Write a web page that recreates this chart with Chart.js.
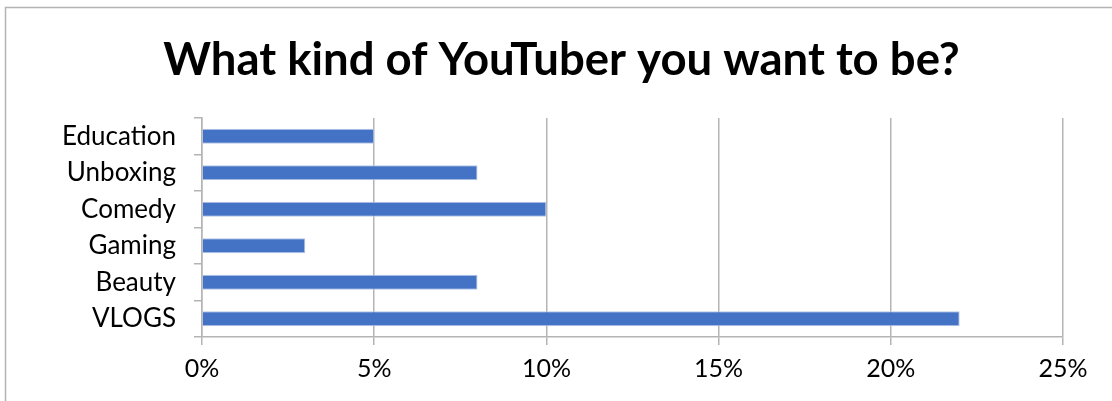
<!DOCTYPE html>
<html>
<head>
<meta charset="utf-8">
<script src="https://cdn.jsdelivr.net/npm/chart.js@4/dist/chart.umd.min.js"></script>
<style>
  body { margin: 0; background: #fff; }
  #wrap { width: 1112px; height: 401px; }
</style>
</head>
<body>
<div id="wrap"><canvas id="canvas" width="1112" height="401"></canvas></div>
<script>
let categorias = ['Education', 'Unboxing', 'Comedy', 'Gaming', 'Beauty', 'VLOGS'];
let valores = [0.05, 0.08, 0.10, 0.03, 0.08, 0.22];
let ticksX = [0, 0.05, 0.10, 0.15, 0.20, 0.25];

// marco gris del area del grafico
const marco = {
  id: 'marco',
  beforeDraw(chart) {
    const ctx = chart.ctx;
    ctx.save();
    ctx.fillStyle = '#fff';
    ctx.fillRect(0, 0, chart.width, chart.height);
    ctx.strokeStyle = '#b4b4b4';
    ctx.lineWidth = 1.5;
    ctx.beginPath();
    ctx.moveTo(5.5, chart.height);
    ctx.lineTo(5.5, 7.5);
    ctx.lineTo(chart.width, 7.5);
    ctx.stroke();
    ctx.restore();
  }
};

window.onload = function(){
  var ctx = document.getElementById('canvas');
  new Chart(ctx, {
    type: 'bar',
    data: {
      labels: categorias,
      datasets: [{
        data: valores,
        backgroundColor: '#4472C4',
        borderColor: '#b4c7e7',
        borderWidth: 1,
        barPercentage: 0.41,
        categoryPercentage: 1
      }]
    },
    options: {
      indexAxis: 'y',
      responsive: false,
      animation: false,
      layout: { padding: { top: 0, right: 49, bottom: 0, left: 60 } },
      plugins: {
        legend: { display: false },
        tooltip: { enabled: false },
        title: {
          display: true,
          text: 'What kind of YouTuber you want to be?',
          color: '#000',
          font: { family: 'Lato', size: 45.5, weight: 'bold', lineHeight: 1.2 },
          padding: { top: 33, bottom: 30.4 }
        }
      },
      scales: {
        x: {
          min: 0,
          max: 0.25,
          afterBuildTicks(scale) {
            scale.ticks = ticksX.map(v => ({ value: v }));
          },
          afterFit(scale) { scale.height = 64; },
          ticks: {
            color: '#000',
            font: { family: 'Lato', size: 25 },
            padding: 9,
            callback: v => Math.round(v * 100) + '%'
          },
          grid: { color: '#b4b4b4', lineWidth: 1.5, tickLength: 8 },
          border: { color: '#b4b4b4', width: 1.5 }
        },
        y: {
          afterFit(scale) { scale.width = 142; },
          ticks: {
            color: '#000',
            font: { family: 'Lato', size: 26 },
            padding: 18
          },
          grid: { drawOnChartArea: false, color: '#b4b4b4', lineWidth: 1.5, tickLength: 8 },
          border: { color: '#b4b4b4', width: 1.5 }
        }
      }
    },
    plugins: [marco]
  });
};
</script>
</body>
</html>
